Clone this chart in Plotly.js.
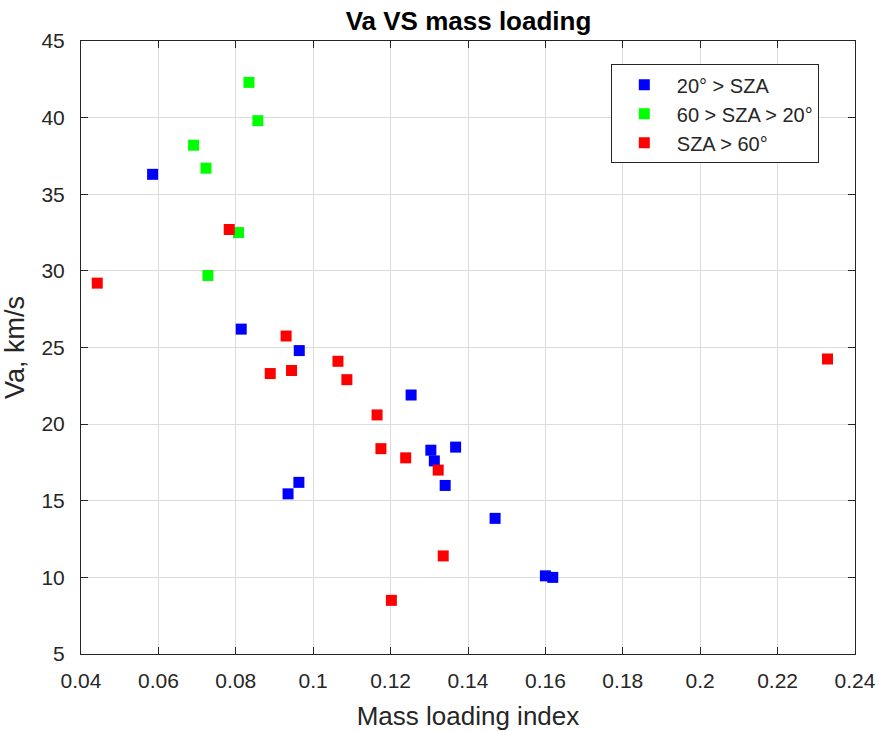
<!DOCTYPE html>
<html>
<head>
<meta charset="utf-8">
<script src="https://cdn.plot.ly/plotly-3.0.1.min.js"></script>
<style>html,body{margin:0;padding:0;background:#fff}#chart{width:879px;height:731px}</style>
</head>
<body>
<div id="chart"></div>
<script>
// Series data
const blueX = [0.0585, 0.0814, 0.0964, 0.1253, 0.1304, 0.1313, 0.1368, 0.1341, 0.0963, 0.0935, 0.1470, 0.1600, 0.1619];
const blueY = [36.3, 26.2, 24.8, 21.9, 18.3, 17.6, 18.5, 16.0, 16.2, 15.45, 13.85, 10.1, 10.0];
const greenX = [0.0834, 0.0857, 0.0691, 0.0723, 0.0807, 0.0728];
const greenY = [42.3, 39.8, 38.2, 36.7, 32.5, 29.7];
const redX = [0.0442, 0.0783, 0.0930, 0.0889, 0.0944, 0.1064, 0.1087, 0.1165, 0.1175, 0.1239, 0.1323, 0.1336, 0.1202, 0.2329];
const redY = [29.2, 32.7, 25.75, 23.3, 23.5, 24.1, 22.9, 20.6, 18.4, 17.8, 17.0, 11.4, 8.5, 24.25];
const seriesNames = ["20° > SZA", "60 > SZA > 20°", "SZA > 60°"];
const xTicks = [0.04, 0.06, 0.08, 0.1, 0.12, 0.14, 0.16, 0.18, 0.2, 0.22, 0.24];
const xTickText = ["0.04", "0.06", "0.08", "0.1", "0.12", "0.14", "0.16", "0.18", "0.2", "0.22", "0.24"];
const yTicks = [5, 10, 15, 20, 25, 30, 35, 40, 45];

const FONT = 'Liberation Sans, Arial, Helvetica, sans-serif';
const mk = (c) => ({symbol: 'square', size: 11, color: c, line: {width: 0}});
const traces = [
  {x: blueX, y: blueY, name: seriesNames[0], mode: 'markers', type: 'scatter', marker: mk('#0000ff')},
  {x: greenX, y: greenY, name: seriesNames[1], mode: 'markers', type: 'scatter', marker: mk('#00ff00')},
  {x: redX, y: redY, name: seriesNames[2], mode: 'markers', type: 'scatter', marker: mk('#ff0000')}
];
const axisCommon = {
  showline: true, linecolor: '#262626', linewidth: 1, mirror: 'ticks',
  ticks: 'inside', ticklen: 7, tickcolor: '#262626', tickwidth: 1,
  showgrid: true, gridcolor: '#dcdcdc', gridwidth: 1, zeroline: false,
  automargin: false,
  tickfont: {family: FONT, size: 21, color: '#262626'}
};
const layout = {
  width: 879, height: 731,
  margin: {l: 81, r: 24, t: 41, b: 77},
  paper_bgcolor: '#ffffff', plot_bgcolor: '#ffffff',
  font: {family: FONT, color: '#262626'},
  title: {text: '<b>Va VS mass loading</b>', x: 0.533, xanchor: 'center', xref: 'container',
          y: 0.972, yanchor: 'middle', yref: 'container',
          font: {size: 26, color: '#000000'}},
  xaxis: Object.assign({}, axisCommon, {
    range: [0.04, 0.24], tickvals: xTicks, ticktext: xTickText,
    ticklabelstandoff: 8,
    title: {text: 'Mass loading index', font: {size: 26, color: '#262626'}, standoff: 16}
  }),
  yaxis: Object.assign({}, axisCommon, {
    range: [5, 45], tickvals: yTicks,
    ticklabelstandoff: 11,
    title: {text: 'Va, km/s', font: {size: 27, color: '#262626'}, standoff: 8}
  }),
  showlegend: true,
  legend: {x: 0.6845, y: 0.962, xanchor: 'left', yanchor: 'top',
           bgcolor: '#ffffff', bordercolor: '#262626', borderwidth: 1,
           font: {family: FONT, size: 20, color: '#262626'}, itemwidth: 55}
};
Plotly.newPlot('chart', traces, layout, {staticPlot: true, displayModeBar: false});
</script>
</body>
</html>
